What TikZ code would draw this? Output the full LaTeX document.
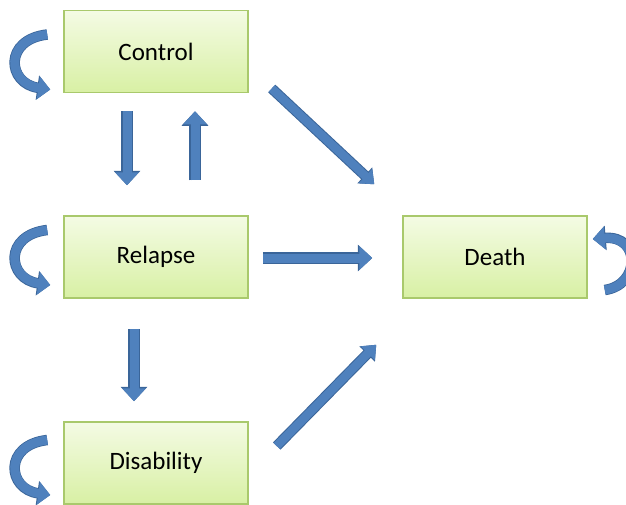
\documentclass[tikz,border=0pt]{standalone}
\usepackage{fontspec}
\setmainfont{Carlito}
\usetikzlibrary{arrows.meta,calc}
\definecolor{boxtop}{HTML}{F4FBE4}
\definecolor{boxbot}{HTML}{D8F0A4}
\definecolor{boxedge}{HTML}{A9C96C}
\definecolor{arrfill}{HTML}{4F81BD}
\definecolor{arredge}{HTML}{3A6599}
\tikzset{
  statebox/.style={draw=boxedge, line width=1.5pt, top color=boxtop, bottom color=boxbot,
    minimum width=184pt, minimum height=82pt, inner sep=0pt, font=\fontsize{25}{28}\selectfont},
  blockarr/.style={draw=arrfill, line width=9pt, -{Triangle[length=13pt,width=23pt]},
    preaction={draw=arredge, line width=11.5pt, -{Triangle[length=14.5pt,width=26pt]}}},
  diagarr/.style={draw=arrfill, line width=8.5pt, -{Triangle[length=12pt,width=19pt]},
    preaction={draw=arredge, line width=10.5pt, -{Triangle[length=13pt,width=21pt]}}},
  loopcurve/.style={draw=arrfill, line width=9pt, -{Triangle[length=12pt,width=22pt]},
    preaction={draw=arredge, line width=10.5pt, -{Triangle[length=13pt,width=24pt]}}}
}
\begin{document}
\begin{tikzpicture}[x=1pt,y=-1pt]
\useasboundingbox (0,0) rectangle (626,504);
\clip (0,0) rectangle (626,504);
\node[statebox] (ctrl) at (156,51.5) {Control};
\node[statebox] (rel) at (156,257) {Relapse};
\node[statebox] (dis) at (156,463) {Disability};
\node[statebox] (death) at (495,257) {Death};

% vertical arrows between Control and Relapse
\draw[blockarr] ($(ctrl.south)+(-29,18)$) coordinate (a1) -- ($(rel.north)+(-29,-30)$) coordinate (a2);
\draw[blockarr] ($(rel.north)+(39,-35)$) coordinate (b1) -- ($(ctrl.south)+(39,18)$) coordinate (b2);
% Relapse -> Disability
\draw[blockarr] ($(rel.south)+(-22,30)$) coordinate (c1) -- ($(dis.north)+(-22,-20)$) coordinate (c2);
% Relapse -> Death
\draw[blockarr] ($(rel.east)+(14,1)$) coordinate (d1) -- ($(death.west)+(-30,1)$) coordinate (d2);
% Control -> Death
\draw[diagarr] ($(ctrl.east)+(23,37)$) coordinate (e1) -- ($(death.north west)+(-28,-31)$) coordinate (e2);
% Disability -> Death
\draw[diagarr] ($(dis.east)+(28,-17)$) coordinate (f1) -- ($(death.south west)+(-26,46)$) coordinate (f2);

% self loops
\begin{scope}[shift={($(ctrl.west)+(0,10)$)}]
  \draw[loopcurve] (-16,-27) .. controls (-60,-22) and (-56,22) .. (-13,28);
\end{scope}
\begin{scope}[shift={(rel.west)}]
  \draw[loopcurve] (-16,-27) .. controls (-60,-22) and (-56,22) .. (-13,28);
\end{scope}
\begin{scope}[shift={($(dis.west)+(0,4)$)}]
  \draw[loopcurve] (-16,-27) .. controls (-60,-22) and (-56,22) .. (-13,28);
\end{scope}
\begin{scope}[shift={(death.east)}]
  \draw[loopcurve] (17,33) .. controls (53,28) and (53,-22) .. (5,-18);
\end{scope}
\end{tikzpicture}
\end{document}
